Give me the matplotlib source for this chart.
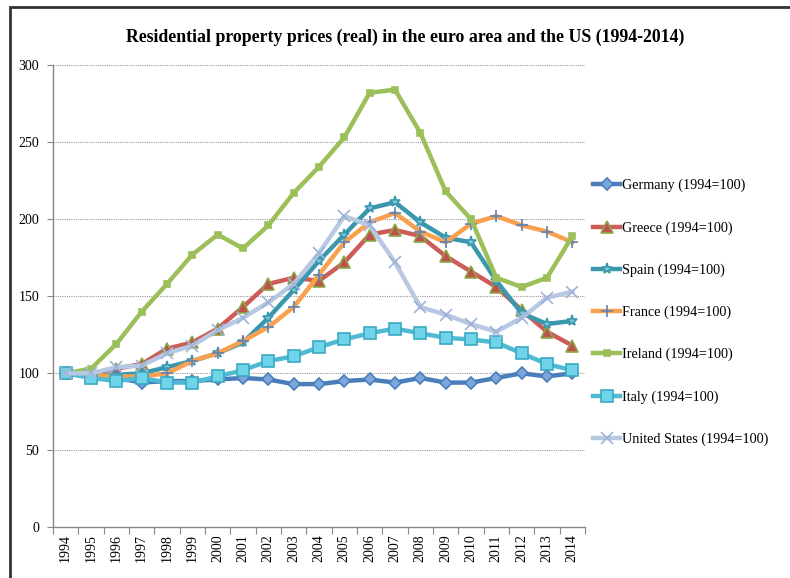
import matplotlib.pyplot as plt
from matplotlib.patches import Rectangle

years = list(range(1994, 2015))

germany = [100, 98, 97, 94, 95, 95, 96, 97, 96, 93, 93, 95, 96, 94, 97, 94, 94, 97, 100, 98, 100]
greece = [100, 100, 103, 106, 116, 120, 129, 143, 158, 162, 160, 172, 190, 193, 189, 176, 166, 156, 141, 127, 118]
spain = [100, 99, 99, 100, 104, 108, 113, 120, 136, 154, 173, 190, 207, 211, 198, 188, 185, 160, 139, 132, 134]
france = [100, 99, 98, 98, 100, 108, 113, 121, 130, 143, 164, 185, 198, 204, 192, 185, 197, 202, 196, 192, 185]
ireland = [100, 103, 119, 140, 158, 177, 190, 181, 196, 217, 234, 253, 282, 284, 256, 218, 200, 162, 156, 162, 189]
italy = [100, 97, 95, 97, 94, 94, 98, 102, 108, 111, 117, 122, 126, 129, 126, 123, 122, 120, 113, 106, 102]
usa = [100, 100, 104, 105, 113, 118, 128, 136, 146, 158, 178, 202, 196, 172, 143, 138, 132, 127, 136, 149, 153]

series = [
    ('Germany (1994=100)', germany, '#4A7EBB', 'D', '#7EA6DC', '#4A7EBB', 6),
    ('Greece (1994=100)', greece, '#CD5B57', '^', '#C0504D', '#8AA845', 8),
    ('Spain (1994=100)', spain, '#3A97AE', '*', '#7FC6D8', '#3A97AE', 8),
    ('France (1994=100)', france, '#F9A04E', '+', '#5B85B8', '#5B85B8', 9),
    ('Ireland (1994=100)', ireland, '#9CBF5A', 's', '#9CBF5A', '#9CBF5A', 4),
    ('Italy (1994=100)', italy, '#4EBBD2', 's', '#6FD3EA', '#3BA9C2', 9),
    ('United States (1994=100)', usa, '#B7C8E2', 'x', '#9DB4D8', '#9DB4D8', 8),
]

plt.rcParams['font.family'] = ['Liberation Serif', 'DejaVu Serif']

fig = plt.figure(figsize=(7.9, 5.78), dpi=100)
ax = fig.add_axes([0.0671, 0.0874, 0.6734, 0.8001])

x = list(range(len(years)))
for label, vals, color, marker, mfc, mec, ms in series:
    ax.plot(x, vals, color=color, linewidth=3.2, marker=marker, markersize=ms,
            markerfacecolor=mfc, markeredgecolor=mec, markeredgewidth=1.2,
            label=label, solid_joinstyle='round')

ax.set_xlim(-0.5, len(years) - 0.5)
ax.set_ylim(0, 300)
ax.set_yticks(range(0, 301, 50))
ax.tick_params(axis='y', labelsize=10, length=4, color='#888888', pad=6)
ax.set_xticks([i + 0.5 for i in range(-1, len(years))])
ax.set_xticklabels([])
ax.set_xticks(x, minor=True)
ax.set_xticklabels([str(y) for y in years], minor=True, rotation=90, fontsize=10)
ax.tick_params(axis='x', which='major', length=5, color='#888888')
ax.tick_params(axis='x', which='minor', length=0, pad=5)

for v in range(50, 301, 50):
    ax.axhline(v, color='#999999', linestyle=(0, (1, 1)), linewidth=0.8, zorder=0)

for s in ['top', 'right']:
    ax.spines[s].set_visible(False)
for s in ['left', 'bottom']:
    ax.spines[s].set_color('#888888')
    ax.spines[s].set_linewidth(1.0)

fig.text(0.513, 0.936, 'Residential property prices (real) in the euro area and the US (1994-2014)',
         ha='center', va='center', fontsize=12.8, fontweight='bold')

ax.legend(loc='upper left', bbox_to_anchor=(1.0, 0.772), frameon=False, fontsize=10.2,
          handlelength=1.9, handletextpad=0.1, labelspacing=2.03, borderaxespad=0.2)

fig.patches.append(Rectangle((10 / 790, -0.1), 1.2, 1.1 - 7 / 578, transform=fig.transFigure,
                             fill=False, edgecolor='#333333', linewidth=2))

fig.savefig('out.png', dpi=100)
